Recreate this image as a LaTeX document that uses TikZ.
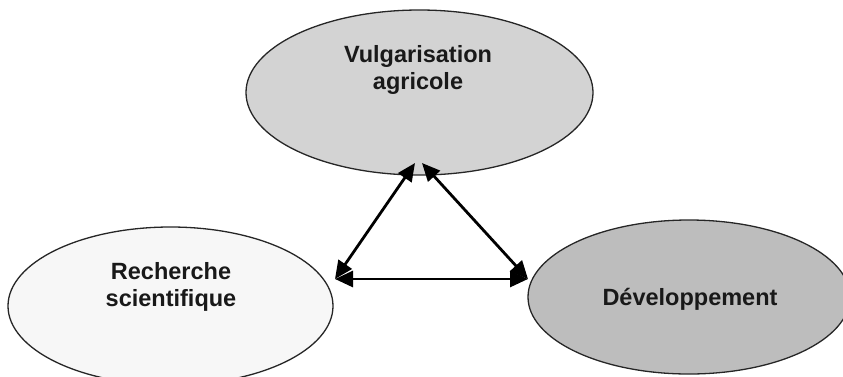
\documentclass[tikz,border=0pt]{standalone}
\usepackage{fontspec}
\setmainfont{Liberation Sans}
\usetikzlibrary{shapes.geometric,arrows.meta}
\definecolor{topfill}{HTML}{D3D3D3}
\definecolor{leftfill}{HTML}{F7F7F7}
\definecolor{rightfill}{HTML}{BDBDBD}
\tikzset{
  oval/.style={ellipse, draw=black!85, line width=1.3pt, inner sep=0pt},
  lbl/.style={font=\bfseries\fontsize{23.5}{27}\selectfont, align=center, text=black!90},
  link/.style={line width=2.8pt, {Triangle[length=18pt,width=16pt]}-{Triangle[length=18pt,width=16pt]}}
}
\begin{document}
\begin{tikzpicture}[x=1pt,y=-1pt]
\useasboundingbox (0,0) rectangle (843,376);
\begin{scope}
\clip (0,0) rectangle (843,376);
\node[oval, fill=topfill, minimum width=347pt, minimum height=165pt] (vulg) at (419.5,92.5) {};
\node[oval, fill=leftfill, minimum width=325pt, minimum height=158pt] (rech) at (170.5,306) {};
\node[oval, fill=rightfill, minimum width=322pt, minimum height=154pt] (dev) at (689,297) {};
\end{scope}
\node[lbl] (tv) at (418,70) {Vulgarisation\\agricole};
\node[lbl] (tr) at (171,287) {Recherche\\scientifique};
\node[lbl] (td) at (690,299) {Développement};
\coordinate (bl) at (335,279);
\coordinate (br) at (528,279);
\coordinate (tl) at (415,163);
\coordinate (tR) at (422,163);
\draw[link] (bl) -- (br);
\draw[link] (bl) -- (tl);
\draw[link] (br) -- (tR);
\end{tikzpicture}
\end{document}
